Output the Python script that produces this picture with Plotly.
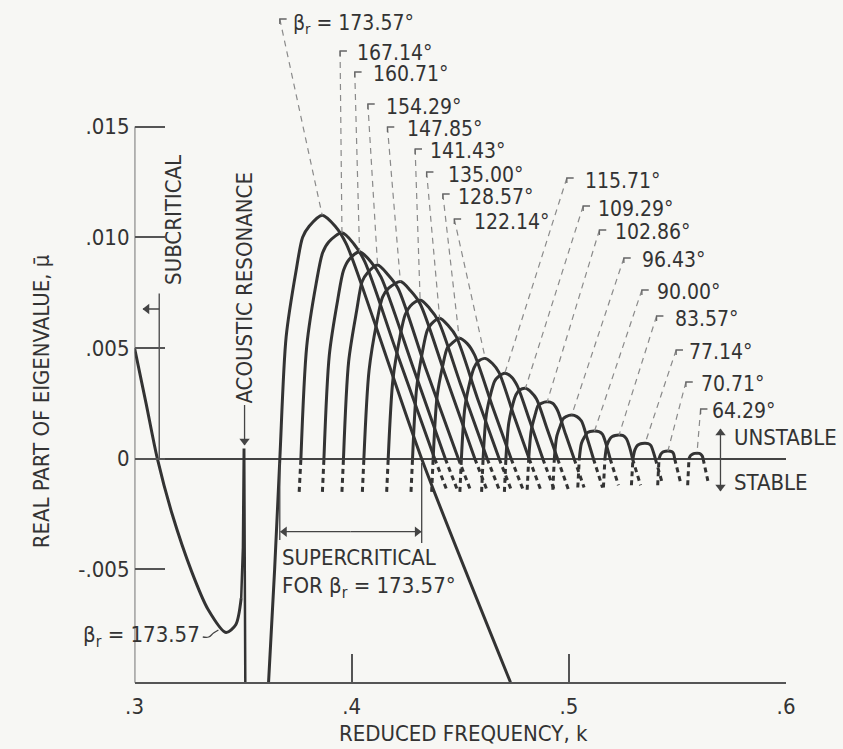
import plotly.graph_objects as go

# ---------------- data ----------------
# full solid curve for beta_r = 173.57 deg, branch left of the acoustic resonance
k_main_a = [0.3000, 0.3053, 0.3105, 0.3173, 0.3263, 0.3338, 0.3421, 0.3466, 0.3491]
mu_main_a = [0.0050, 0.0025, 0.0000, -0.0025, -0.0051, -0.0068, -0.00785, -0.0075, -0.0063]
# the resonance spike
k_spike = [0.3491, 0.3499, 0.3503, 0.3505, 0.3510]
mu_spike = [-0.0063, -0.0040, 0.0004, 0.0004, -0.0101]
# branch right of the resonance
k_main_b = [0.3617, 0.3645, 0.3669, 0.3698, 0.3744, 0.3774, 0.3804, 0.3864, 0.3924, 0.3975, 0.4100, 0.4322, 0.4731]
mu_main_b = [-0.0101, -0.0050, 0.0000, 0.0055, 0.0085, 0.0100, 0.0105, 0.0110, 0.0105, 0.0097, 0.0063, 0.0000, -0.0101]

# other beta_r curves (first and last points are the dashed parts below zero)
k_16714 = [0.3758, 0.3766, 0.3793, 0.3836, 0.3866, 0.3895, 0.3955, 0.4010, 0.4060, 0.4200, 0.4382, 0.4437]
mu_16714 = [-0.0015, 0.0, 0.0051, 0.0079, 0.0093, 0.0098, 0.0102, 0.0097, 0.0089, 0.0050, 0.0, -0.0014]
k_16071 = [0.3865, 0.3872, 0.3897, 0.3936, 0.3962, 0.3988, 0.4036, 0.4088, 0.4135, 0.4280, 0.4431, 0.4486]
mu_16071 = [-0.0015, 0.0, 0.0047, 0.0072, 0.0085, 0.0090, 0.00935, 0.0089, 0.0082, 0.0042, 0.0, -0.0014]
k_15429 = [0.3955, 0.3962, 0.3986, 0.4023, 0.4048, 0.4073, 0.4119, 0.4168, 0.4213, 0.4340, 0.4491, 0.4546]
mu_15429 = [-0.0015, 0.0, 0.0044, 0.0067, 0.0080, 0.0084, 0.00875, 0.0083, 0.0077, 0.0041, 0.0, -0.0014]
k_14785 = [0.4049, 0.4056, 0.4080, 0.4116, 0.4142, 0.4170, 0.4224, 0.4270, 0.4315, 0.4430, 0.4567, 0.4622]
mu_14785 = [-0.0015, 0.0, 0.0040, 0.0062, 0.0073, 0.0077, 0.0080, 0.0076, 0.0070, 0.0038, 0.0, -0.0014]
k_14143 = [0.4161, 0.4168, 0.4190, 0.4222, 0.4246, 0.4270, 0.4315, 0.4358, 0.4400, 0.4500, 0.4624, 0.4679]
mu_14143 = [-0.0015, 0.0, 0.0036, 0.0055, 0.0065, 0.0069, 0.00717, 0.0068, 0.0062, 0.0034, 0.0, -0.0014]
k_13500 = [0.4273, 0.4280, 0.4299, 0.4327, 0.4348, 0.4368, 0.4405, 0.4445, 0.4482, 0.4580, 0.4679, 0.4734]
mu_13500 = [-0.0015, 0.0, 0.0032, 0.0049, 0.0058, 0.0061, 0.00634, 0.0060, 0.0055, 0.0027, 0.0, -0.0014]
k_12857 = [0.4368, 0.4375, 0.4393, 0.4419, 0.4440, 0.4460, 0.4495, 0.4532, 0.4565, 0.4650, 0.4734, 0.4789]
mu_12857 = [-0.0015, 0.0, 0.0028, 0.0042, 0.0050, 0.0052, 0.00544, 0.0052, 0.0047, 0.0023, 0.0, -0.0014]
k_12214 = [0.4498, 0.4505, 0.4521, 0.4545, 0.4563, 0.4582, 0.4615, 0.4648, 0.4678, 0.4745, 0.4817, 0.4870]
mu_12214 = [-0.0015, 0.0, 0.0023, 0.0035, 0.0041, 0.0044, 0.00453, 0.0043, 0.0039, 0.0020, 0.0, -0.0014]
k_11571 = [0.4598, 0.4605, 0.4620, 0.4642, 0.4658, 0.4675, 0.4705, 0.4735, 0.4762, 0.4820, 0.4880, 0.4932]
mu_11571 = [-0.0015, 0.0, 0.0020, 0.0030, 0.0035, 0.0037, 0.00386, 0.0037, 0.0033, 0.0017, 0.0, -0.0014]
k_10929 = [0.4703, 0.4710, 0.4723, 0.4743, 0.4757, 0.4773, 0.4800, 0.4827, 0.4851, 0.4898, 0.4948, 0.4998]
mu_10929 = [-0.0015, 0.0, 0.0016, 0.0025, 0.0029, 0.0031, 0.00318, 0.0030, 0.0027, 0.0014, 0.0, -0.0014]
k_10286 = [0.4808, 0.4815, 0.4827, 0.4845, 0.4858, 0.4873, 0.4900, 0.4925, 0.4947, 0.4985, 0.5024, 0.5070]
mu_10286 = [-0.0014, 0.0, 0.0013, 0.0020, 0.0024, 0.0025, 0.00257, 0.0025, 0.0022, 0.0011, 0.0, -0.0013]
k_9643 = [0.4926, 0.4933, 0.4944, 0.4961, 0.4973, 0.4987, 0.5013, 0.5037, 0.5058, 0.5085, 0.5113, 0.5155]
mu_9643 = [-0.0014, 0.0, 0.0010, 0.0015, 0.0018, 0.0019, 0.00197, 0.0019, 0.0017, 0.0009, 0.0, -0.0013]
k_9000 = [0.5041, 0.5048, 0.5058, 0.5073, 0.5085, 0.5098, 0.5118, 0.5138, 0.5155, 0.5173, 0.5190, 0.5228]
mu_9000 = [-0.0013, 0.0, 0.0007, 0.0010, 0.00118, 0.00123, 0.00125, 0.00122, 0.0011, 0.0006, 0.0, -0.0012]
k_8357 = [0.5159, 0.5166, 0.5175, 0.5189, 0.5200, 0.5213, 0.5231, 0.5250, 0.5265, 0.5280, 0.5293, 0.5330]
mu_8357 = [-0.0013, 0.0, 0.0006, 0.0009, 0.0010, 0.00105, 0.00107, 0.00104, 0.0009, 0.0005, 0.0, -0.0012]
k_7714 = [0.5288, 0.5295, 0.5304, 0.5316, 0.5326, 0.5337, 0.5351, 0.5365, 0.5377, 0.5389, 0.5398, 0.5430]
mu_7714 = [-0.0012, 0.0, 0.0004, 0.0006, 0.00066, 0.00069, 0.0007, 0.00068, 0.0006, 0.0003, 0.0, -0.0011]
k_7071 = [0.5409, 0.5415, 0.5423, 0.5433, 0.5445, 0.5456, 0.5467, 0.5477, 0.5483, 0.5487, 0.5515]
mu_7071 = [-0.0012, 0.0, 0.0002, 0.0003, 0.00034, 0.00035, 0.00034, 0.0003, 0.0002, 0.0, -0.0011]
k_6429 = [0.5547, 0.5553, 0.5560, 0.5570, 0.5580, 0.5590, 0.5600, 0.5608, 0.5614, 0.5618, 0.5640]
mu_6429 = [-0.0012, 0.0, 0.00014, 0.00021, 0.00024, 0.00025, 0.00024, 0.0002, 0.00012, 0.0, -0.0010]

beta_labels = ["173.57", "167.14", "160.71", "154.29", "147.85", "141.43", "135.00", "128.57", "122.14",
               "115.71", "109.29", "102.86", "96.43", "90.00", "83.57", "77.14", "70.71", "64.29"]

x_tickvals = [0.3, 0.4, 0.5, 0.6]
x_ticktext = [".3", ".4", ".5", ".6"]
y_tickvals = [-0.005, 0.0, 0.005, 0.010, 0.015]
y_ticktext = ["-.005", "0", ".005", ".010", ".015"]

# ---------------- layout geometry (pixels) ----------------
W, H = 843, 749
XL, XR = 128.3, 794.0          # pixel of k=.3 and k=.6
Y0PX = 458.7                   # pixel of mu = 0
PX_PER_MU = 22140.0
Y_TOP = Y0PX / PX_PER_MU
Y_BOT = -(H - Y0PX) / PX_PER_MU
X_AXIS_PX = 682.7
Y_AXIS_BOTTOM = -(X_AXIS_PX - Y0PX) / PX_PER_MU


def xd(px):
    return 0.3 + (px - XL) / (XR - XL) * 0.3


def yd(py):
    return (Y0PX - py) / PX_PER_MU


def px_(px):
    return px / W


def py_(py):
    return 1 - py / H


BG = "#f7f7f4"
INK = "#333333"
AX = "#555555"
FONT = "DejaVu Sans Condensed, Liberation Sans Narrow, Arial Narrow, sans-serif"
FS = 22
FS_LABEL = 21

fig = go.Figure()

fig.add_trace(go.Scatter(x=k_main_a, y=mu_main_a, mode="lines",
                         line=dict(color=INK, width=3, shape="spline", smoothing=0.8)))
fig.add_trace(go.Scatter(x=k_spike, y=mu_spike, mode="lines", line=dict(color=INK, width=2.5)))
fig.add_trace(go.Scatter(x=k_main_b, y=mu_main_b, mode="lines",
                         line=dict(color=INK, width=3, shape="spline", smoothing=0.8)))

others = [(k_16714, mu_16714), (k_16071, mu_16071), (k_15429, mu_15429), (k_14785, mu_14785),
          (k_14143, mu_14143), (k_13500, mu_13500), (k_12857, mu_12857), (k_12214, mu_12214),
          (k_11571, mu_11571), (k_10929, mu_10929), (k_10286, mu_10286), (k_9643, mu_9643),
          (k_9000, mu_9000), (k_8357, mu_8357), (k_7714, mu_7714), (k_7071, mu_7071), (k_6429, mu_6429)]

dashed = dict(color=INK, width=3, dash="5px,4px")
for k, mu in others:
    fig.add_trace(go.Scatter(x=k[:2], y=mu[:2], mode="lines", line=dashed))
    fig.add_trace(go.Scatter(x=k[1:-1], y=mu[1:-1], mode="lines",
                             line=dict(color=INK, width=3, shape="spline", smoothing=0.8)))
    fig.add_trace(go.Scatter(x=k[-2:], y=mu[-2:], mode="lines", line=dashed))

# ---------------- labels + leader lines ----------------
label_text_px = [(288, 23.5), (353.3, 53.5), (370, 74), (383.3, 106.7), (405, 129), (428.3, 151),
                 (446.7, 175), (456.7, 196.7), (473.3, 221.7), (586.7, 181), (600, 209), (616.7, 232.5),
                 (645, 260), (660, 291.7), (678.3, 319), (693.3, 352), (705, 384), (716.7, 411)]
bracket_px = [(276.7, 19), (338.3, 51), (353.3, 72), (366.7, 104), (386.7, 127), (415, 149),
              (426.7, 172), (443.3, 194), (455, 219), (570, 178), (586.7, 206), (603.3, 230),
              (628.3, 258), (646.7, 290), (661.7, 316), (681.7, 350), (691.7, 382), (706.7, 409)]

all_curves = [(k_main_b, mu_main_b)] + others
for i, (k, mu) in enumerate(all_curves):
    j = max(range(len(mu)), key=lambda n: mu[n])
    bx, by = bracket_px[i]
    fig.add_trace(go.Scatter(x=[xd(bx), k[j]], y=[yd(by), mu[j]], mode="lines",
                             line=dict(color="#8a8a8a", width=1.2, dash="6px,5px")))
    fig.add_trace(go.Scatter(x=[xd(bx + 7), xd(bx), xd(bx)], y=[yd(by), yd(by), yd(by + 5)], mode="lines",
                             line=dict(color="#666666", width=1.3)))
    tx, ty = label_text_px[i]
    txt = ("β<sub>r</sub> = " if i == 0 else "") + beta_labels[i] + "°"
    fig.add_annotation(x=px_(tx), y=py_(ty), xref="paper", yref="paper", text=txt, showarrow=False,
                       xanchor="left", yanchor="middle", font=dict(size=FS_LABEL, color=INK, family=FONT))


def text(x, y, s, angle=0, xanchor="center", size=FS):
    fig.add_annotation(x=px_(x), y=py_(y), xref="paper", yref="paper", text=s, textangle=angle,
                       xanchor=xanchor, yanchor="middle", showarrow=False,
                       font=dict(size=size, color=INK, family=FONT))


ARROW_SYM = {(-1, 0): "triangle-left", (1, 0): "triangle-right", (0, -1): "triangle-up", (0, 1): "triangle-down"}


def arrow(x0, y0, x1, y1):
    # line from (x0, y0) to the arrow tip (x1, y1), pixel positions
    dx = (x1 > x0) - (x1 < x0)
    dy = (y1 > y0) - (y1 < y0)
    fig.add_trace(go.Scatter(x=[xd(x0), xd(x1)], y=[yd(y0), yd(y1)], mode="lines",
                             line=dict(color="#444444", width=1.3)))
    fig.add_trace(go.Scatter(x=[xd(x1 - 4 * dx)], y=[yd(y1 - 4 * dy)], mode="markers",
                             marker=dict(symbol=ARROW_SYM[(dx, dy)], size=9, color="#444444")))


thin = dict(color="#444444", width=1.3)
# y axis line
fig.add_trace(go.Scatter(x=[0.3, 0.3], y=[Y_AXIS_BOTTOM, 0.015], mode="lines", line=dict(color=AX, width=1.6)))
# subcritical marker
fig.add_trace(go.Scatter(x=[xd(153.5), xd(153.5)], y=[yd(293.5), 0], mode="lines", line=thin))
arrow(153.5, 309, 137, 309)
text(168.5, 220, "SUBCRITICAL", angle=-90)
# acoustic resonance
text(240.7, 288, "ACOUSTIC RESONANCE", angle=-90)
arrow(240.7, 405, 240.7, 445)
# beta label at the minimum
text(197, 636, "β<sub>r</sub> = 173.57", xanchor="right")
fig.add_trace(go.Scatter(x=[xd(198), xd(204), xd(209), xd(214)], y=[yd(637), yd(637), yd(633), yd(630)],
                         mode="lines", line=dict(color="#444444", width=1.3, shape="spline")))
# supercritical bracket
fig.add_trace(go.Scatter(x=[xd(276.7), xd(276.7)], y=[yd(463), yd(540)], mode="lines", line=thin))
fig.add_trace(go.Scatter(x=[xd(421.7), xd(421.7)], y=[yd(463), yd(543)], mode="lines", line=thin))
arrow(349, 531.7, 277.5, 531.7)
arrow(349, 531.7, 421, 531.7)
text(277, 557, "SUPERCRITICAL", xanchor="left")
text(277, 587, "FOR β<sub>r</sub> = 173.57°", xanchor="left")
# unstable / stable
arrow(727, 460, 727, 429)
arrow(727, 460, 727, 491)
text(739, 437, "UNSTABLE", xanchor="left")
text(739, 483, "STABLE", xanchor="left")
# axis titles
text(464, 733, "REDUCED FREQUENCY, k")
text(33, 401, "REAL PART OF EIGENVALUE, μ\u0304", angle=-90, size=22)

fig.update_layout(
    width=W, height=H, margin=dict(l=0, r=0, t=0, b=0),
    paper_bgcolor=BG, plot_bgcolor=BG, showlegend=False,
    xaxis=dict(domain=[XL / W, XR / W], range=[0.3, 0.6], anchor="free", position=(H - X_AXIS_PX) / H,
               showline=True, linecolor=AX, linewidth=1.6, showgrid=False, zeroline=False,
               ticks="inside", ticklen=28, tickwidth=1.6, tickcolor=AX,
               tickvals=x_tickvals, ticktext=x_ticktext, ticklabelstandoff=4,
               tickfont=dict(size=FS, color=INK, family=FONT)),
    yaxis=dict(domain=[0, 1], range=[Y_BOT, Y_TOP], anchor="x", showline=False, showgrid=False,
               zeroline=True, zerolinecolor="#444444", zerolinewidth=1.6,
               ticks="inside", ticklen=30, tickwidth=1.6, tickcolor=AX,
               tickvals=y_tickvals, ticktext=y_ticktext, ticklabelstandoff=4,
               tickfont=dict(size=FS, color=INK, family=FONT)),
)

fig.write_html("out.html", config={"displayModeBar": False},
               post_script="document.body.style.margin='0';document.body.style.overflow='hidden';")
